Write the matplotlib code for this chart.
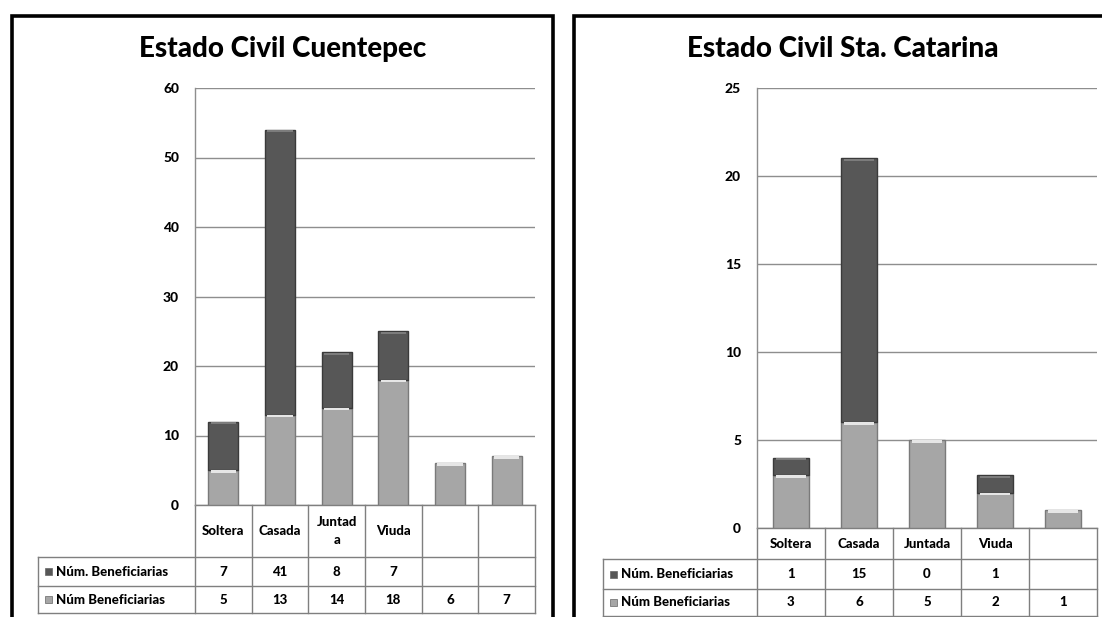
import matplotlib
matplotlib.use("Agg")
import matplotlib.pyplot as plt
from matplotlib.patches import Rectangle
from matplotlib import transforms
import numpy as np

# ---------------- data ----------------
cuent_title = "Estado Civil Cuentepec"
cuent_categories = ["Soltera", "Casada", "Juntad\na", "Viuda", "", ""]
cuent_top = [7, 41, 8, 7, None, None]          # Núm. Beneficiarias
cuent_bottom = [5, 13, 14, 18, 6, 7]           # Núm Beneficiarias
cuent_yticks = [0, 10, 20, 30, 40, 50, 60]

cat_title = "Estado Civil Sta. Catarina"
cat_categories = ["Soltera", "Casada", "Juntada", "Viuda", ""]
cat_top = [1, 15, 0, 1, None]
cat_bottom = [3, 6, 5, 2, 1]
cat_yticks = [0, 5, 10, 15, 20, 25]

series_top_label = "Núm. Beneficiarias"
series_bottom_label = "Núm Beneficiarias"

# ---------------- style ----------------
W, H = 1102, 617
DARK, DARK_EDGE = "#575757", "#3a3a3a"
LIGHT, LIGHT_EDGE = "#a6a6a6", "#7a7a7a"
GRID = "#8e8e8e"
TABLE_LINE = "#7f7f7f"
FONT = "Lato"
WEIGHT = "black"

fig = plt.figure(figsize=(W / 100, H / 100), dpi=100)
fig.patch.set_facecolor("white")


def fx(px):
    return px / W


def fy(py):
    return 1 - py / H


def panel(title, cats, top, bottom, yticks, plot_px, rows_px, legend_left, border_px):
    x0, y0, x1, y1 = plot_px
    ax = fig.add_axes([fx(x0), fy(y1), fx(x1) - fx(x0), fy(y0) - fy(y1)])
    n = len(cats)
    x = np.arange(n)
    b = np.array(bottom, float)
    t = np.array([np.nan if v is None else v for v in top], float)
    ax.bar(x, b, width=0.53, color=LIGHT, edgecolor=LIGHT_EDGE, lw=1.0, zorder=3)
    mask = np.nan_to_num(t) > 0
    ax.bar(x[mask], t[mask], bottom=b[mask], width=0.53, color=DARK,
           edgecolor=DARK_EDGE, lw=1.0, zorder=3)
    # light bevel at top of each segment
    ax.bar(x, np.full(n, (yticks[-1] - yticks[0]) * 0.006), bottom=b - (yticks[-1]) * 0.006,
           width=0.45, color="#e6e6e6", lw=0, zorder=4)
    tt = b + np.nan_to_num(t)
    ax.bar(x[mask], np.full(mask.sum(), (yticks[-1]) * 0.005),
           bottom=tt[mask] - (yticks[-1]) * 0.006,
           width=0.45, color="#7c7c7c", lw=0, zorder=4)

    ax.set_xlim(-0.5, n - 0.5)
    ax.set_ylim(yticks[0], yticks[-1])
    ax.set_yticks(yticks)
    ax.set_xticks([])
    ax.tick_params(axis="y", length=0, pad=11.5, labelsize=10)
    for lbl in ax.get_yticklabels():
        lbl.set_fontweight(WEIGHT)
        lbl.set_fontfamily(FONT)
    ax.yaxis.grid(True, color=GRID, lw=1.0)
    ax.set_axisbelow(True)
    for s in ["top", "right", "bottom"]:
        ax.spines[s].set_visible(False)
    ax.spines["left"].set_color(GRID)
    ax.spines["left"].set_linewidth(1.0)

    # ---- data table ----
    blend = transforms.blended_transform_factory(ax.transData, fig.transFigure)
    ry = [fy(v) for v in rows_px]  # header top, header bottom, row1 bottom, row2 bottom
    kw = dict(color=TABLE_LINE, lw=1.0, clip_on=False)
    xl, xr = -0.5, n - 0.5
    ax.plot([xl, xr], [ry[0], ry[0]], transform=blend, **kw)
    for yy in ry[1:]:
        fig.add_artist(plt.Line2D([fx(legend_left), fx(x1)], [yy, yy], color=TABLE_LINE, lw=1.0))
    for k in range(n + 1):
        ax.plot([k - 0.5, k - 0.5], [ry[0], ry[3]], transform=blend, **kw)
    fig.add_artist(plt.Line2D([fx(legend_left), fx(legend_left)], [ry[1], ry[3]],
                              color=TABLE_LINE, lw=1.0))
    tkw = dict(transform=blend, ha="center", va="center", fontsize=9.5,
               fontweight=WEIGHT, family=FONT, linespacing=1.5)
    for k, c in enumerate(cats):
        ax.text(k, (ry[0] + ry[1]) / 2, c, **tkw)
    for k, v in enumerate(top):
        if v is not None:
            ax.text(k, (ry[1] + ry[2]) / 2, str(v), **tkw)
    for k, v in enumerate(bottom):
        if v is not None:
            ax.text(k, (ry[2] + ry[3]) / 2, str(v), **tkw)
    for (ya, yb), lab, col in [((ry[1], ry[2]), series_top_label, DARK),
                               ((ry[2], ry[3]), series_bottom_label, LIGHT)]:
        ym = (ya + yb) / 2
        fig.add_artist(Rectangle((fx(legend_left + 7), ym - 3.5 / H), 7 / W, 7 / H,
                                 transform=fig.transFigure, facecolor=col,
                                 edgecolor="#666666", lw=0.5))
        fig.text(fx(legend_left + 18), ym, lab, ha="left", va="center", fontsize=9.5,
                 fontweight=WEIGHT, family=FONT)

    # ---- border and title ----
    bx0, by0, bx1, by1 = border_px
    fig.add_artist(Rectangle((fx(bx0), fy(by1)), fx(bx1) - fx(bx0), fy(by0) - fy(by1),
                             transform=fig.transFigure, fill=False,
                             edgecolor="black", lw=2.6))
    fig.text(fx((bx0 + bx1) / 2), fy(49), title, ha="center", va="center",
             fontsize=20, fontweight=WEIGHT, family=FONT)
    return ax


panel(cuent_title, cuent_categories, cuent_top, cuent_bottom, cuent_yticks,
      (195, 88, 535, 505), (505, 557, 586, 613), 38, (12, 16, 553, 640))
panel(cat_title, cat_categories, cat_top, cat_bottom, cat_yticks,
      (757, 88, 1097, 528), (528, 559, 589, 616), 603, (574, 16, 1112, 640))

fig.savefig("out.png", dpi=100, facecolor="white")
